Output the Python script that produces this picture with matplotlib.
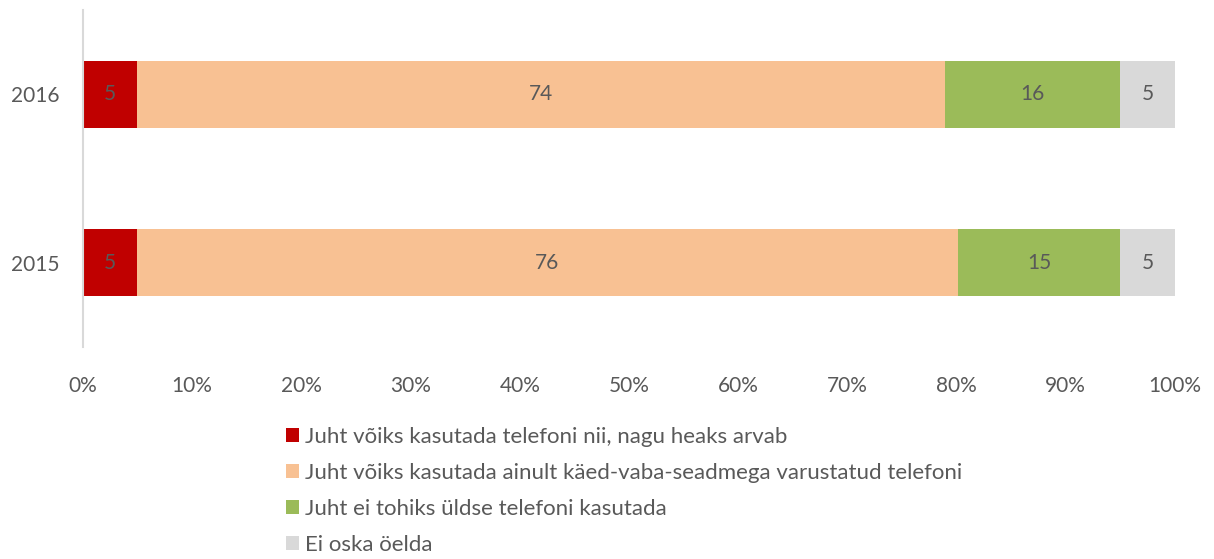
import numpy as np
import matplotlib.pyplot as plt
from matplotlib.ticker import PercentFormatter

plt.rcParams['font.family'] = ['Lato', 'DejaVu Sans']

years = ['2015', '2016']
categories = ['Juht võiks kasutada telefoni nii, nagu heaks arvab',
              'Juht võiks kasutada ainult käed-vaba-seadmega varustatud telefoni',
              'Juht ei tohiks üldse telefoni kasutada',
              'Ei oska öelda']
# shares in %, order matches years
values = [[4.9, 4.9],
          [75.2, 74.0],
          [14.9, 16.1],
          [5.0, 5.0]]
labels = [['5', '5'],
          ['76', '74'],
          ['15', '16'],
          ['5', '5']]
colors = ['#C00000', '#F8C193', '#9BBB59', '#D9D9D9']
text_col = '#595959'

fig = plt.figure(figsize=(12.14, 5.59), dpi=100)
ax = fig.add_axes([83 / 1214, 1 - 347 / 559, 1092 / 1214, 337 / 559])

y = np.arange(len(years))
left = np.zeros(len(years))
for vals, labs, col, name in zip(values, labels, colors, categories):
    bars = ax.barh(y, vals, left=left, height=0.4, color=col, label=name)
    ax.bar_label(bars, labels=labs, label_type='center', color=text_col, fontsize=15)
    left += np.array(vals)

ax.set_xlim(0, 100)
ax.set_ylim(-0.5, 1.5)
ax.set_yticks(y, years)
ax.set_xticks(np.arange(0, 101, 10))
ax.xaxis.set_major_formatter(PercentFormatter(decimals=0))
ax.tick_params(length=0, labelsize=15, labelcolor=text_col)
ax.tick_params(axis='x', pad=21)
ax.tick_params(axis='y', pad=17)
for s in ['top', 'right', 'bottom']:
    ax.spines[s].set_visible(False)
ax.spines['left'].set_color('#D9D9D9')
ax.spines['left'].set_linewidth(1.5)

leg = fig.legend(loc='upper left', bbox_to_anchor=(286 / 1214, 1 - 427 / 559),
                 frameon=False, fontsize=16, handlelength=0.6, handleheight=0.6,
                 handletextpad=0.25, labelspacing=0.72, borderpad=0, borderaxespad=0)
for t in leg.get_texts():
    t.set_color(text_col)

fig.savefig('out.png', dpi=100)
